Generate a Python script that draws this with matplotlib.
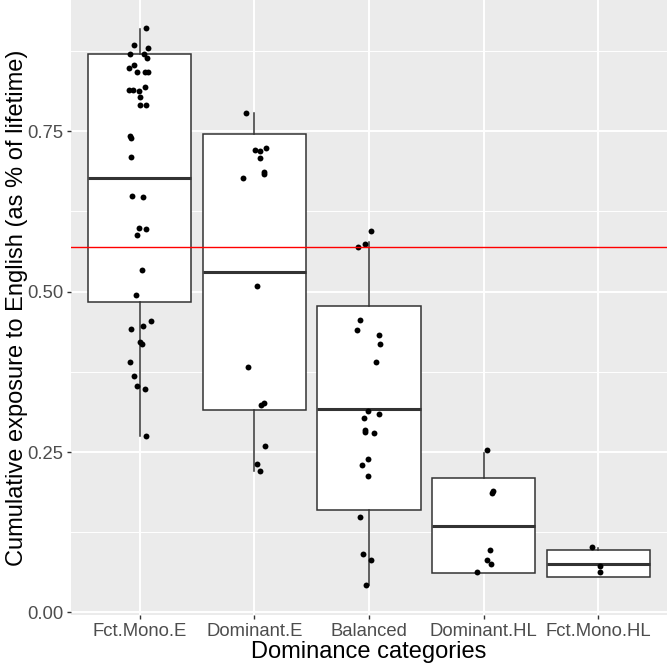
import matplotlib
matplotlib.use("Agg")
import matplotlib.pyplot as plt
from matplotlib.ticker import MultipleLocator

plt.rcParams['font.family'] = ['Liberation Sans', 'DejaVu Sans']

categories = ["Fct.Mono.E", "Dominant.E", "Balanced", "Dominant.HL", "Fct.Mono.HL"]

# jittered points (value, horizontal jitter offset in category units)
fme_y = [0.911, 0.884, 0.880, 0.871, 0.871, 0.864, 0.853, 0.848, 0.843, 0.842, 0.842,
         0.819, 0.814, 0.814, 0.813, 0.803, 0.791, 0.791, 0.743, 0.740, 0.710, 0.649,
         0.648, 0.599, 0.597, 0.588, 0.533, 0.494, 0.454, 0.446, 0.442, 0.421, 0.418,
         0.390, 0.369, 0.353, 0.349, 0.275]
fme_dx = [0.054, -0.051, 0.074, -0.083, 0.037, 0.065, -0.051, -0.098, -0.022, 0.042, 0.071,
          0.048, -0.098, -0.063, -0.010, 0.004, 0.004, 0.054, -0.083, -0.078, -0.077, -0.068,
          0.031, -0.007, 0.054, -0.028, 0.019, -0.033, 0.094, 0.031, -0.074, 0.002, 0.022,
          -0.083, -0.051, -0.024, 0.042, 0.054]

de_y = [0.779, 0.724, 0.721, 0.719, 0.709, 0.687, 0.683, 0.677, 0.509, 0.382, 0.327,
        0.324, 0.259, 0.231, 0.220]
de_dx = [-0.070, 0.102, 0.003, 0.046, 0.046, 0.087, 0.087, -0.096, 0.026, -0.052, 0.087,
         0.055, 0.096, 0.026, 0.050]

bal_y = [0.594, 0.574, 0.569, 0.456, 0.440, 0.433, 0.419, 0.390, 0.314, 0.310, 0.303,
         0.284, 0.281, 0.280, 0.239, 0.230, 0.212, 0.148, 0.091, 0.082, 0.043]
bal_dx = [0.020, -0.035, -0.096, -0.081, -0.102, 0.090, 0.096, 0.061, -0.009, 0.085, -0.046,
          -0.037, -0.035, 0.044, -0.009, -0.061, -0.009, -0.076, -0.055, 0.015, -0.024]

dhl_y = [0.253, 0.190, 0.186, 0.097, 0.082, 0.076, 0.063]
dhl_dx = [0.031, 0.081, 0.075, 0.052, 0.026, 0.061, -0.058]

fmhl_y = [0.102, 0.073, 0.063]
fmhl_dx = [-0.055, 0.017, 0.012]

# box statistics
box_q1 = [0.484, 0.316, 0.159, 0.062, 0.056]
box_med = [0.677, 0.530, 0.317, 0.135, 0.076]
box_q3 = [0.871, 0.745, 0.477, 0.209, 0.097]
box_lo = [0.275, 0.220, 0.043, 0.062, 0.056]
box_hi = [0.910, 0.779, 0.578, 0.249, 0.100]

reference_line = 0.570

points_y = [fme_y, de_y, bal_y, dhl_y, fmhl_y]
points_dx = [fme_dx, de_dx, bal_dx, dhl_dx, fmhl_dx]

fig = plt.figure(figsize=(6.67, 6.67), dpi=100)
ax = fig.add_axes([71 / 667, 52 / 667, 596 / 667, 615 / 667])
ax.set_facecolor("#EBEBEB")
for s in ax.spines.values():
    s.set_visible(False)

positions = list(range(1, len(categories) + 1))

stats = []
for i in range(len(categories)):
    stats.append(dict(med=box_med[i], q1=box_q1[i], q3=box_q3[i],
                      whislo=box_lo[i], whishi=box_hi[i], fliers=[]))

ax.bxp(stats, positions=positions, widths=0.9, patch_artist=True, showfliers=False,
       showcaps=False, manage_ticks=False,
       boxprops=dict(facecolor="white", edgecolor="#333333", linewidth=1.1),
       medianprops=dict(color="#333333", linewidth=2.2, solid_capstyle="butt"),
       whiskerprops=dict(color="#333333", linewidth=1.1),
       zorder=2)

for p, ys, dxs in zip(positions, points_y, points_dx):
    xs = [p + d for d in dxs]
    ax.scatter(xs, ys, s=18, color="black", zorder=3, linewidths=0)

ax.axhline(reference_line, color="#FF0000", linewidth=1.0, zorder=4)

ax.set_xlim(0.4, 5.6)
ax.set_ylim(-0.004, 0.9545)

ax.yaxis.set_major_locator(MultipleLocator(0.25))
ax.yaxis.set_minor_locator(MultipleLocator(0.125))
ax.set_xticks(positions)
ax.set_xticklabels(categories)
ax.set_yticks([0, 0.25, 0.5, 0.75])
ax.set_yticklabels(["0.00", "0.25", "0.50", "0.75"])

ax.grid(which="major", color="white", linewidth=1.4)
ax.grid(which="minor", axis="y", color="white", linewidth=0.7)
ax.set_axisbelow(True)
ax.tick_params(which="minor", length=0)
ax.tick_params(which="major", length=3.0, width=1.0, color="#333333",
               labelsize=13.3, labelcolor="#4D4D4D", pad=2.5)

ax.set_xlabel("Dominance categories", fontsize=17, color="black", labelpad=1)
ax.set_ylabel("Cumulative exposure to English (as % of lifetime)", fontsize=17,
              color="black", labelpad=-0.5)

fig.savefig("out.png", dpi=100)
